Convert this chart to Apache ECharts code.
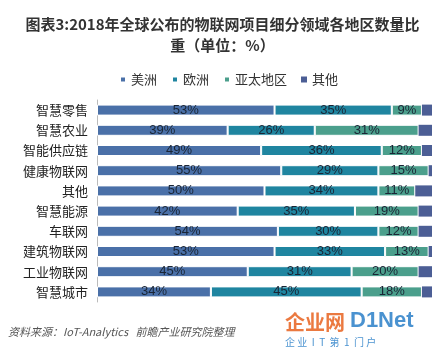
<!DOCTYPE html>
<html><head><meta charset="utf-8">
<script src="https://cdn.jsdelivr.net/npm/echarts@6/dist/echarts.min.js"></script>
<style>html,body{margin:0;padding:0;background:#fff}#c{width:445px;height:352px}</style>
</head><body><div id="c"></div>
<script>
const categories = ['智慧零售','智慧农业','智能供应链','健康物联网','其他','智慧能源','车联网','建筑物联网','工业物联网','智慧城市'];
const seriesNames = ['美洲','欧洲','亚太地区','其他'];
const americas = [53,39,49,55,50,42,54,53,45,34];
const europe   = [35,26,36,29,34,35,30,33,31,45];
const apac     = [9,31,12,15,11,19,12,13,20,18];
const others   = [3,4,3,1,5,4,4,1,4,3];
const colors = ['#4a70a8','#1f85a0','#4b9f8c','#4c5e95'];
const dataSets = [americas, europe, apac, others];

const chart = echarts.init(document.getElementById('c'));
chart.setOption({
  animation:false,
  title:{
    text:'图表3:2018年全球公布的物联网项目细分领域各地区数量比\n重（单位：%）',
    left:'center', top:9,
    textStyle:{fontSize:15,fontWeight:'bold',color:'#333',lineHeight:21,fontFamily:'"Noto Sans CJK SC",sans-serif'}
  },
  legend:{
    data:seriesNames, top:68, left:114,
    itemWidth:6,itemHeight:6,itemGap:14,icon:'rect',
    textStyle:{fontSize:13,color:'#333',fontFamily:'"Noto Sans CJK SC",sans-serif'}
  },
  grid:{left:97,right:13,top:100,bottom:50},
  xAxis:{type:'value',min:0,max:100,show:false},
  yAxis:{type:'category',inverse:true,data:categories,
    axisLine:{lineStyle:{color:'#bbb'}},axisTick:{show:false},
    axisLabel:{fontSize:13,color:'#222',margin:9,fontFamily:'"Noto Sans CJK SC",sans-serif'}},
  series: seriesNames.map((n,i)=>({
    name:n,type:'bar',stack:'a',data:dataSets[i],barWidth:11,
    itemStyle:{color:colors[i],borderColor:'#fff',borderWidth:i<3?1:0},
    label:{show:i<3,position:'inside',formatter:'{c}%',color:'#1a2535',fontSize:13,fontFamily:'Arial,"Liberation Sans",sans-serif'}
  })),
  graphic:[
    {type:'text',left:8,top:326,style:{text:'资料来源：IoT-Analytics   前瞻产业研究院整理',fontSize:11,fontStyle:'italic',fill:'#555',fontFamily:'"Noto Sans CJK SC",sans-serif'}},
    {type:'text',left:285,top:312,style:{text:'企业网',fontSize:20,fontWeight:'bold',fill:'#e8621f',opacity:0.85,fontFamily:'"Noto Sans CJK SC",sans-serif'}},
    {type:'text',left:350,top:310,style:{text:'D1Net',fontSize:22,fontWeight:'bold',fill:'#2a7fc8',opacity:0.85,fontFamily:'Arial,sans-serif'}},
    {type:'text',left:285,top:337,style:{text:'企 业  I  T  第  1  门 户',fontSize:10,fill:'#2a7fc8',opacity:0.85,fontFamily:'"Noto Sans CJK SC",sans-serif'}}
  ]
});
</script></body></html>
